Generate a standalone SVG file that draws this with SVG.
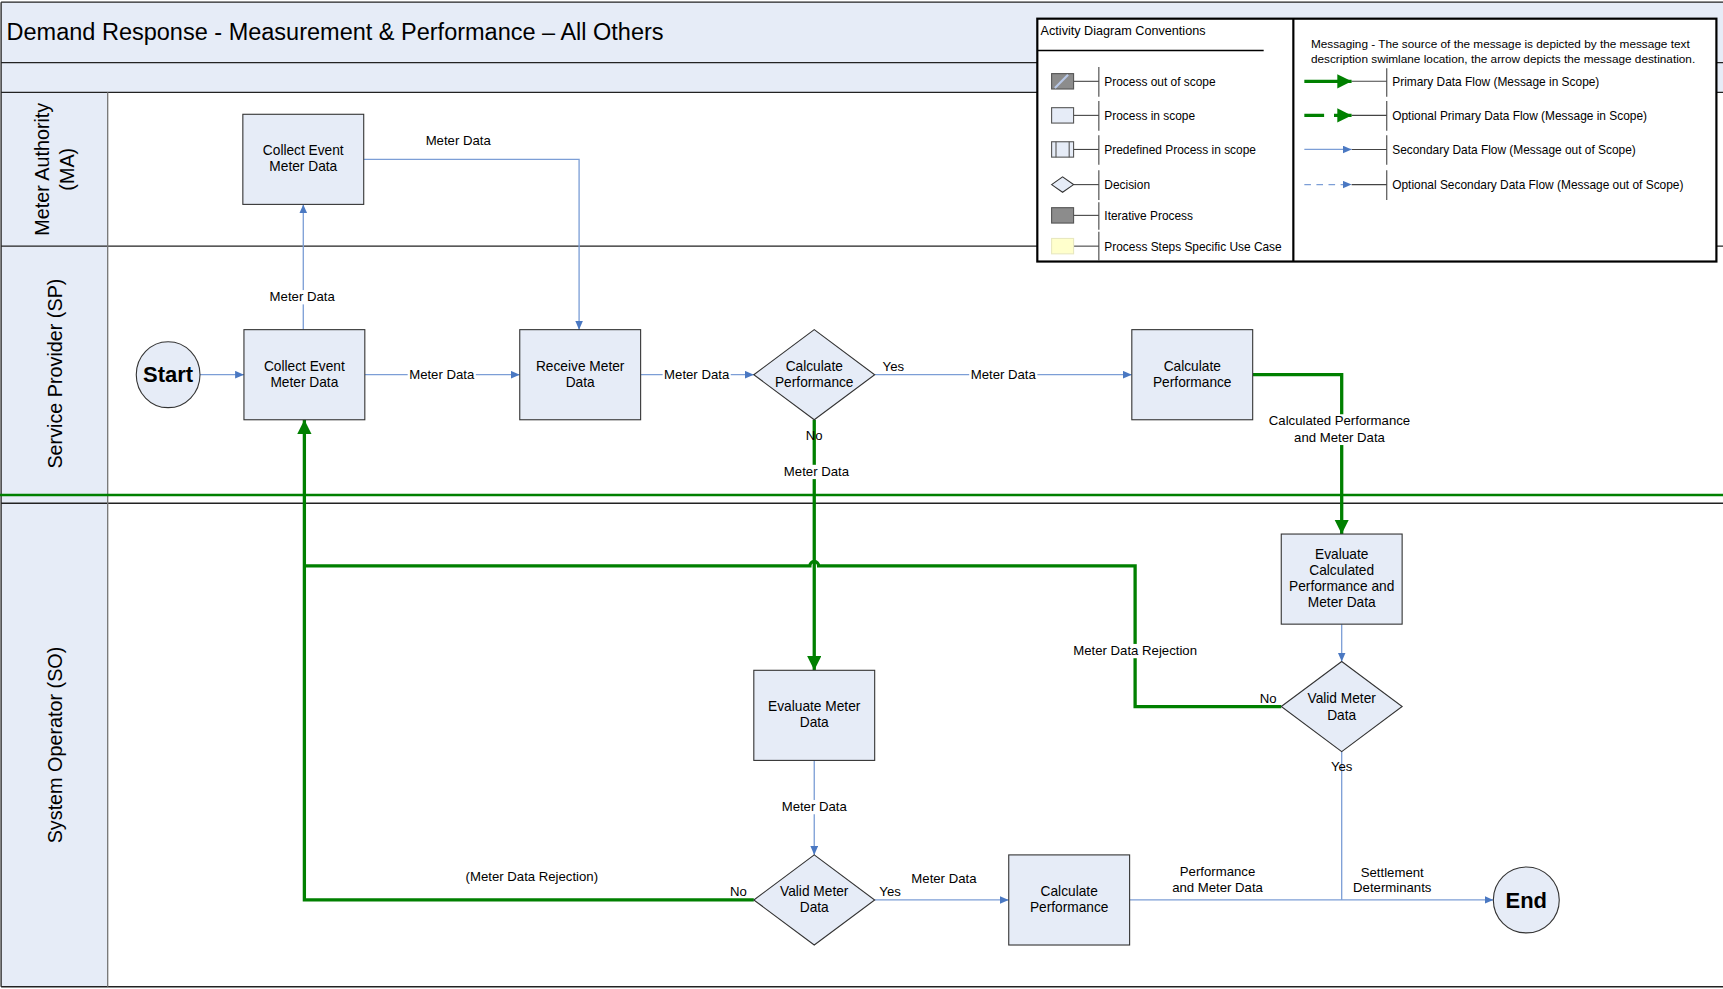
<svg xmlns="http://www.w3.org/2000/svg" width="1723" height="989" viewBox="0 0 1723 989">
<style>
text{font-family:"Liberation Sans",Arial,sans-serif;fill:#000}
.node{fill:#e6ecf7;stroke:#333;stroke-width:1}
.nt{font-size:12.5px;text-anchor:middle}
.lbl{font-size:12px;text-anchor:middle}
.wb{fill:#fff;stroke:none}
.blue{fill:none;stroke:#7c9ed6;stroke-width:1.2}
.green{fill:none;stroke:#008000;stroke-width:3}
.lane{stroke:#222;stroke-width:1.2}
.lanelbl{font-size:18px;text-anchor:middle}
.lg{font-size:10.85px}
.tick{stroke:#444;stroke-width:1}
</style>
<defs>
<marker id="ab" markerUnits="userSpaceOnUse" markerWidth="9" markerHeight="8" refX="8" refY="3.5" orient="auto"><path d="M0,0 L8,3.5 L0,7 z" fill="#4a78c2"/></marker>
<marker id="ag" markerUnits="userSpaceOnUse" markerWidth="14" markerHeight="14" refX="13" refY="6.5" orient="auto"><path d="M0,0 L13,6.5 L0,13 z" fill="#008000"/></marker>
</defs>
<rect width="1723" height="989" fill="#fff"/>
<g transform="scale(1.09885)">
<g id="lanes">
<rect x="1" y="2" width="1567" height="82" fill="#e6ecf7"/>
<rect x="1" y="84" width="97" height="814" fill="#e6ecf7"/>
<line class="lane" x1="1" y1="2" x2="1568" y2="2"/>
<line class="lane" x1="1" y1="2" x2="1" y2="898"/>
<line class="lane" x1="1" y1="57" x2="1568" y2="57"/>
<line class="lane" x1="1" y1="84" x2="1568" y2="84"/>
<line class="lane" x1="1" y1="224" x2="1568" y2="224"/>
<line class="lane" x1="1" y1="458" x2="1568" y2="458"/>
<line class="lane" x1="1" y1="898" x2="1568" y2="898"/>
<line x1="98" y1="84" x2="98" y2="898" stroke="#777" stroke-width="1.2"/>
<line x1="0" y1="450.5" x2="1568" y2="450.5" stroke="#008000" stroke-width="2.2"/>
<text x="6" y="36" font-size="21.4">Demand Response - Measurement &amp; Performance – All Others</text>
<text class="lanelbl" transform="translate(45,154) rotate(-90)">Meter Authority</text>
<text class="lanelbl" transform="translate(67,154) rotate(-90)">(MA)</text>
<text class="lanelbl" transform="translate(56,340) rotate(-90)">Service Provider (SP)</text>
<text class="lanelbl" transform="translate(56,678) rotate(-90)">System Operator (SO)</text>
</g>
<g id="legend">
<rect x="944" y="17" width="618" height="221" fill="#fff" stroke="#000" stroke-width="2"/>
<line x1="1177" y1="17" x2="1177" y2="238" stroke="#000" stroke-width="2"/>
<text x="947" y="32" font-size="11.5">Activity Diagram Conventions</text>
<line x1="944" y1="46" x2="1150" y2="46" stroke="#000" stroke-width="1.5"/>
<g class="tick">
<line x1="977" y1="74" x2="1000" y2="74"/><line x1="1000" y1="61" x2="1000" y2="88"/>
<line x1="977" y1="105" x2="1000" y2="105"/><line x1="1000" y1="92" x2="1000" y2="119"/>
<line x1="977" y1="136" x2="1000" y2="136"/><line x1="1000" y1="123" x2="1000" y2="150"/>
<line x1="977" y1="168" x2="1000" y2="168"/><line x1="1000" y1="155" x2="1000" y2="182"/>
<line x1="977" y1="196" x2="1000" y2="196"/><line x1="1000" y1="184" x2="1000" y2="209"/>
<line x1="977" y1="224" x2="1000" y2="224"/><line x1="1000" y1="211" x2="1000" y2="237"/>
<line x1="1230" y1="74" x2="1262" y2="74"/><line x1="1262" y1="62" x2="1262" y2="88"/>
<line x1="1230" y1="105" x2="1262" y2="105"/><line x1="1262" y1="92" x2="1262" y2="119"/>
<line x1="1230" y1="136" x2="1262" y2="136"/><line x1="1262" y1="123" x2="1262" y2="150"/>
<line x1="1230" y1="168" x2="1262" y2="168"/><line x1="1262" y1="155" x2="1262" y2="182"/>
</g>
<rect x="957" y="67" width="20" height="14" fill="#8c8c8c" stroke="#555"/>
<line x1="960" y1="80" x2="972" y2="68" stroke="#b8c8e6" stroke-width="2"/>
<rect x="957" y="98" width="20" height="14" fill="#e6ecf7" stroke="#555"/>
<rect x="957" y="129" width="20" height="14" fill="#e6ecf7" stroke="#555"/>
<line x1="961" y1="129" x2="961" y2="143" stroke="#555"/><line x1="973" y1="129" x2="973" y2="143" stroke="#555"/>
<path d="M957,168 L967,161 L977,168 L967,175 z" fill="#e6ecf7" stroke="#333"/>
<rect x="957" y="189" width="20" height="14" fill="#8c8c8c" stroke="#555"/>
<rect x="957" y="217" width="20" height="14" fill="#ffffcc" stroke="#e8e8c0"/>
<text class="lg" x="1005" y="78">Process out of scope</text>
<text class="lg" x="1005" y="109">Process in scope</text>
<text class="lg" x="1005" y="140">Predefined Process in scope</text>
<text class="lg" x="1005" y="172">Decision</text>
<text class="lg" x="1005" y="200">Iterative Process</text>
<text class="lg" x="1005" y="228">Process Steps Specific Use Case</text>
<text x="1193" y="44" font-size="10.75">Messaging - The source of the message is depicted by the message text</text>
<text x="1193" y="57" font-size="10.75">description swimlane location, the arrow depicts the message destination.</text>
<line x1="1187" y1="74" x2="1230" y2="74" class="green" marker-end="url(#ag)"/>
<line x1="1187" y1="105" x2="1230" y2="105" class="green" stroke-dasharray="18,9" marker-end="url(#ag)"/>
<line x1="1187" y1="136" x2="1230" y2="136" class="blue" marker-end="url(#ab)"/>
<line x1="1187" y1="168" x2="1230" y2="168" class="blue" stroke-dasharray="6,5" marker-end="url(#ab)"/>
<text class="lg" x="1267" y="78">Primary Data Flow (Message in Scope)</text>
<text class="lg" x="1267" y="109">Optional Primary Data Flow (Message in Scope)</text>
<text class="lg" x="1267" y="140">Secondary Data Flow (Message out of Scope)</text>
<text class="lg" x="1267" y="172">Optional Secondary Data Flow (Message out of Scope)</text>
</g>
<g id="connectors">
<line class="blue" x1="182" y1="341" x2="222" y2="341" marker-end="url(#ab)"/>
<line class="blue" x1="276" y1="300" x2="276" y2="186" marker-end="url(#ab)"/>
<polyline class="blue" points="331,145 527,145 527,300" marker-end="url(#ab)"/>
<line class="blue" x1="332" y1="341" x2="473" y2="341" marker-end="url(#ab)"/>
<line class="blue" x1="583" y1="341" x2="686" y2="341" marker-end="url(#ab)"/>
<line class="blue" x1="796" y1="341" x2="1030" y2="341" marker-end="url(#ab)"/>
<line class="green" x1="741" y1="382" x2="741" y2="610" marker-end="url(#ag)"/>
<polyline class="green" points="1140,341 1221,341 1221,486" marker-end="url(#ag)"/>
<line class="blue" x1="1221" y1="568" x2="1221" y2="602" marker-end="url(#ab)"/>
<path class="green" d="M1166,643 L1033,643 L1033,515 L745,515 A4,4 0 0 0 737,515 L277,515"/>
<polyline class="green" points="686,819 277,819 277,382" marker-end="url(#ag)"/>
<line class="blue" x1="741" y1="692" x2="741" y2="778" marker-end="url(#ab)"/>
<line class="blue" x1="796" y1="819" x2="918" y2="819" marker-end="url(#ab)"/>
<line class="blue" x1="1028" y1="819" x2="1359" y2="819" marker-end="url(#ab)"/>
<line class="blue" x1="1221" y1="684" x2="1221" y2="819"/>
<rect class="wb" x="244" y="264" width="62" height="13"/>
<rect class="wb" x="371" y="335" width="62" height="13"/>
<rect class="wb" x="603" y="335" width="62" height="13"/>
<rect class="wb" x="882" y="335" width="62" height="13"/>
<rect class="wb" x="712" y="423" width="62" height="13"/>
<rect class="wb" x="1154" y="377" width="131" height="28"/>
<rect class="wb" x="975" y="586" width="116" height="13"/>
<rect class="wb" x="710" y="728" width="62" height="13"/>
<text class="lbl" x="417" y="132">Meter Data</text>
<text class="lbl" x="275" y="274">Meter Data</text>
<text class="lbl" x="402" y="345">Meter Data</text>
<text class="lbl" x="634" y="345">Meter Data</text>
<text class="lbl" x="813" y="338">Yes</text>
<text class="lbl" x="913" y="345">Meter Data</text>
<text class="lbl" x="741" y="400">No</text>
<text class="lbl" x="743" y="433">Meter Data</text>
<text class="lbl" x="1219" y="387">Calculated Performance</text>
<text class="lbl" x="1219" y="402">and Meter Data</text>
<text class="lbl" x="1033" y="596">Meter Data Rejection</text>
<text class="lbl" x="1154" y="640">No</text>
<text class="lbl" x="1221" y="702">Yes</text>
<text class="lbl" x="741" y="738">Meter Data</text>
<text class="lbl" x="484" y="802">(Meter Data Rejection)</text>
<text class="lbl" x="672" y="815">No</text>
<text class="lbl" x="810" y="815">Yes</text>
<text class="lbl" x="859" y="804">Meter Data</text>
<text class="lbl" x="1108" y="797">Performance</text>
<text class="lbl" x="1108" y="812">and Meter Data</text>
<text class="lbl" x="1267" y="798">Settlement</text>
<text class="lbl" x="1267" y="812">Determinants</text>
</g>
<g id="ma-collect"><rect class="node" x="221" y="104" width="110" height="82"/><text class="nt" x="276" y="141">Collect Event</text><text class="nt" x="276" y="156">Meter Data</text></g>
<g id="start"><ellipse class="node" cx="153" cy="341" rx="29" ry="30"/><text x="153" y="348" font-size="20" font-weight="bold" text-anchor="middle">Start</text></g>
<g id="sp-collect"><rect class="node" x="222" y="300" width="110" height="82"/><text class="nt" x="277" y="337.5">Collect Event</text><text class="nt" x="277" y="352">Meter Data</text></g>
<g id="sp-receive"><rect class="node" x="473" y="300" width="110" height="82"/><text class="nt" x="528" y="337.5">Receive Meter</text><text class="nt" x="528" y="352">Data</text></g>
<g id="sp-decision"><path class="node" d="M686,341 L741,300 L796,341 L741,382 z"/><text class="nt" x="741" y="337.5">Calculate</text><text class="nt" x="741" y="352">Performance</text></g>
<g id="sp-calc"><rect class="node" x="1030" y="300" width="110" height="82"/><text class="nt" x="1085" y="337.5">Calculate</text><text class="nt" x="1085" y="352">Performance</text></g>
<g id="so-evalcalc"><rect class="node" x="1166" y="486" width="110" height="82"/><text class="nt" x="1221" y="508.5">Evaluate</text><text class="nt" x="1221" y="523">Calculated</text><text class="nt" x="1221" y="537.5">Performance and</text><text class="nt" x="1221" y="552">Meter Data</text></g>
<g id="so-valid-right"><path class="node" d="M1166,643 L1221,602 L1276,643 L1221,684 z"/><text class="nt" x="1221" y="640">Valid Meter</text><text class="nt" x="1221" y="655">Data</text></g>
<g id="so-evalmeter"><rect class="node" x="686" y="610" width="110" height="82"/><text class="nt" x="741" y="647">Evaluate Meter</text><text class="nt" x="741" y="661.5">Data</text></g>
<g id="so-valid-bottom"><path class="node" d="M686,819 L741,778 L796,819 L741,860 z"/><text class="nt" x="741" y="815">Valid Meter</text><text class="nt" x="741" y="830">Data</text></g>
<g id="so-calc"><rect class="node" x="918" y="778" width="110" height="82"/><text class="nt" x="973" y="815">Calculate</text><text class="nt" x="973" y="830">Performance</text></g>
<g id="end"><ellipse class="node" cx="1389" cy="819" rx="30" ry="30"/><text x="1389" y="826" font-size="20" font-weight="bold" text-anchor="middle">End</text></g>
</g>
</svg>
